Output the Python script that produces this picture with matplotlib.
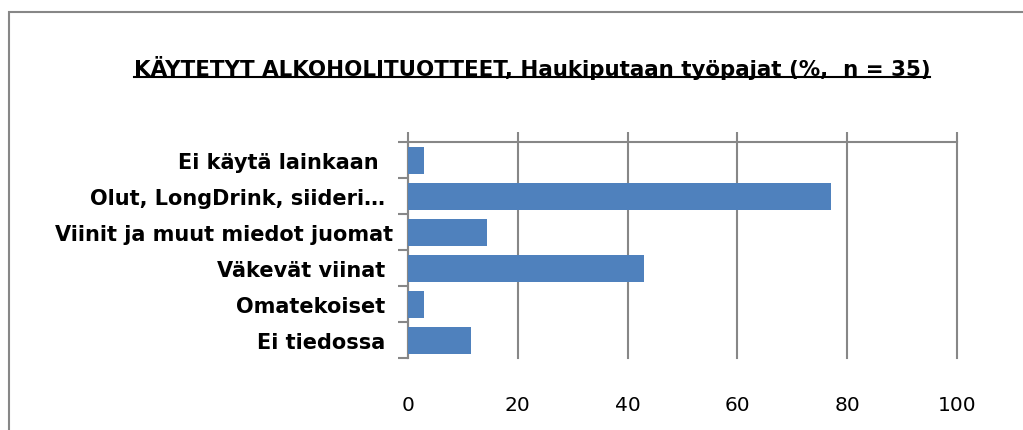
import matplotlib
matplotlib.use("Agg")
import matplotlib.pyplot as plt
from matplotlib.patches import Rectangle
from matplotlib.lines import Line2D

# data (%)
kategoriat = ["Ei käytä lainkaan  ", "Olut, LongDrink, siideri… ", "Viinit ja muut miedot juomat",
              "Väkevät viinat ", "Omatekoiset ", "Ei tiedossa "]
osuudet = [2.9, 77.1, 14.3, 42.9, 2.9, 11.4]
x_ticks = [0, 20, 40, 60, 80, 100]
otsikko = "KÄYTETYT ALKOHOLITUOTTEET, Haukiputaan työpajat (%,  n = 35)"

plt.rcParams['font.family'] = ['DejaVu Sans']
harmaa = '#878787'
sininen = '#4F81BD'

fig = plt.figure(figsize=(10.23, 4.31), dpi=100)
W, H = 1023, 431
ax = fig.add_axes([408 / W, 1 - 359 / H, (957 - 408) / W, (359 - 143) / H])

y = list(range(len(kategoriat)))
ax.barh(y, osuudet, height=0.75, color=sininen, zorder=3)
ax.set_ylim(len(kategoriat) - 0.5, -0.5)
ax.set_xlim(0, 100)

# akselit
ax.set_yticks(y)
ax.set_yticklabels(kategoriat, fontsize=15, fontweight='bold')
ax.set_yticks([i - 0.5 for i in range(len(kategoriat) + 1)], minor=True)
ax.tick_params(axis='y', which='major', length=0, pad=11)
ax.tick_params(axis='y', which='minor', length=7, width=1.5, color=harmaa)

ax.set_xticks(x_ticks)
ax.tick_params(axis='x', top=True, bottom=False, labeltop=False, labelbottom=True,
               length=7, width=1.5, color=harmaa, pad=20, labelsize=14.5)
ax.grid(axis='x', color=harmaa, linewidth=1.5, zorder=0)
for gl in ax.get_xgridlines():
    gl.set_clip_on(False)

for s in ['right', 'bottom']:
    ax.spines[s].set_visible(False)
for s in ['left', 'top']:
    ax.spines[s].set_color(harmaa)
    ax.spines[s].set_linewidth(1.5)

# otsikko alleviivattuna
t = fig.text(532 / W, 1 - 68 / H, otsikko, ha='center', va='center',
             fontsize=15.4, fontweight='bold')
fig.canvas.draw()
bb = t.get_window_extent(fig.canvas.get_renderer()).transformed(fig.transFigure.inverted())
fig.add_artist(Line2D([bb.x0, bb.x1], [bb.y0 + 0.004, bb.y0 + 0.004],
                      transform=fig.transFigure, color='black', linewidth=1.5))

# kehys
fig.add_artist(Rectangle((9 / W, -0.2), 1.2, 1 - 13 / H + 0.2, transform=fig.transFigure,
                         fill=False, edgecolor=harmaa, linewidth=1.5))

fig.savefig("out.png", dpi=100)
